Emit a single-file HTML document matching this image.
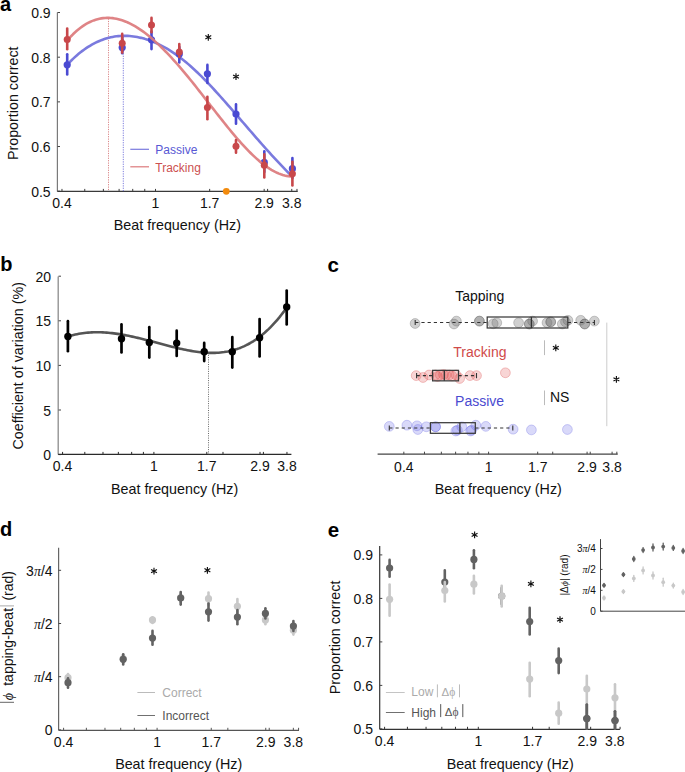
<!DOCTYPE html>
<html><head><meta charset="utf-8"><style>
html,body{margin:0;padding:0;background:#fff;}
body{width:685px;height:772px;overflow:hidden;font-family:"Liberation Sans", sans-serif;}
svg{display:block;}
</style></head><body>
<svg width="685" height="772" viewBox="0 0 685 772" font-family='"Liberation Sans", sans-serif'>
<rect width="685" height="772" fill="#fff"/>
<text x="0.00" y="11.20" font-size="20" text-anchor="start" fill="#000" font-weight="bold" >a</text>
<line x1="57.40" y1="12.50" x2="57.40" y2="191.40" stroke="#7a7a7a" stroke-width="1.2" />
<line x1="57.50" y1="191.20" x2="60.00" y2="191.20" stroke="#444" stroke-width="1" />
<text x="50.60" y="196.70" font-size="14" text-anchor="end" fill="#111" font-weight="normal" >0.5</text>
<line x1="57.50" y1="146.53" x2="60.00" y2="146.53" stroke="#444" stroke-width="1" />
<text x="50.60" y="152.03" font-size="14" text-anchor="end" fill="#111" font-weight="normal" >0.6</text>
<line x1="57.50" y1="101.86" x2="60.00" y2="101.86" stroke="#444" stroke-width="1" />
<text x="50.60" y="107.36" font-size="14" text-anchor="end" fill="#111" font-weight="normal" >0.7</text>
<line x1="57.50" y1="57.19" x2="60.00" y2="57.19" stroke="#444" stroke-width="1" />
<text x="50.60" y="62.69" font-size="14" text-anchor="end" fill="#111" font-weight="normal" >0.8</text>
<line x1="57.50" y1="12.52" x2="60.00" y2="12.52" stroke="#444" stroke-width="1" />
<text x="50.60" y="18.02" font-size="14" text-anchor="end" fill="#111" font-weight="normal" >0.9</text>
<line x1="57.40" y1="191.40" x2="297.70" y2="191.40" stroke="#3a3a3a" stroke-width="1.3" />
<line x1="61.98" y1="191.40" x2="61.98" y2="188.90" stroke="#3a3a3a" stroke-width="1" />
<line x1="155.50" y1="191.40" x2="155.50" y2="188.90" stroke="#3a3a3a" stroke-width="1" />
<line x1="209.66" y1="191.40" x2="209.66" y2="188.90" stroke="#3a3a3a" stroke-width="1" />
<line x1="264.16" y1="191.40" x2="264.16" y2="188.90" stroke="#3a3a3a" stroke-width="1" />
<line x1="291.75" y1="191.40" x2="291.75" y2="188.90" stroke="#3a3a3a" stroke-width="1" />
<line x1="84.76" y1="191.40" x2="84.76" y2="188.90" stroke="#3a3a3a" stroke-width="1" />
<line x1="103.37" y1="191.40" x2="103.37" y2="188.90" stroke="#3a3a3a" stroke-width="1" />
<line x1="119.10" y1="191.40" x2="119.10" y2="188.90" stroke="#3a3a3a" stroke-width="1" />
<line x1="132.73" y1="191.40" x2="132.73" y2="188.90" stroke="#3a3a3a" stroke-width="1" />
<line x1="144.75" y1="191.40" x2="144.75" y2="188.90" stroke="#3a3a3a" stroke-width="1" />
<line x1="226.24" y1="191.40" x2="226.24" y2="188.90" stroke="#3a3a3a" stroke-width="1" />
<line x1="267.62" y1="191.40" x2="267.62" y2="188.90" stroke="#3a3a3a" stroke-width="1" />
<line x1="296.98" y1="191.40" x2="296.98" y2="188.90" stroke="#3a3a3a" stroke-width="1" />
<text x="61.98" y="208.30" font-size="14" text-anchor="middle" fill="#111" font-weight="normal" >0.4</text>
<text x="155.50" y="208.30" font-size="14" text-anchor="middle" fill="#111" font-weight="normal" >1</text>
<text x="209.66" y="208.30" font-size="14" text-anchor="middle" fill="#111" font-weight="normal" >1.7</text>
<text x="264.16" y="208.30" font-size="14" text-anchor="middle" fill="#111" font-weight="normal" >2.9</text>
<text x="291.75" y="208.30" font-size="14" text-anchor="middle" fill="#111" font-weight="normal" >3.8</text>
<text x="177.40" y="229.80" font-size="14.3" text-anchor="middle" fill="#111" font-weight="normal" >Beat frequency (Hz)</text>
<text x="0.00" y="0.00" font-size="14.3" text-anchor="middle" fill="#111" font-weight="normal" transform="translate(18.0,103.3) rotate(-90)">Proportion correct</text>
<line x1="108.60" y1="18.50" x2="108.60" y2="191.20" stroke="#c8474a" stroke-width="0.8" stroke-dasharray="1.2,1.2" opacity="0.9"/>
<line x1="123.30" y1="36.50" x2="123.30" y2="191.20" stroke="#4a4ad2" stroke-width="0.8" stroke-dasharray="1.2,1.2" opacity="0.9"/>
<line x1="130.30" y1="149.30" x2="149.00" y2="149.30" stroke="#7a7ade" stroke-width="1.2" />
<line x1="130.30" y1="166.80" x2="149.00" y2="166.80" stroke="#dc7a7c" stroke-width="1.2" />
<text x="155.30" y="154.20" font-size="12" text-anchor="start" fill="#5858d4" font-weight="normal" >Passive</text>
<text x="155.30" y="171.50" font-size="12" text-anchor="start" fill="#cc5050" font-weight="normal" >Tracking</text>
<polyline points="67.30,64.59 69.19,62.61 71.08,60.71 72.97,58.88 74.86,57.13 76.75,55.45 78.64,53.85 80.53,52.32 82.42,50.87 84.31,49.49 86.20,48.18 88.09,46.94 89.98,45.77 91.87,44.66 93.76,43.63 95.65,42.67 97.54,41.77 99.43,40.94 101.32,40.17 103.21,39.47 105.10,38.84 106.99,38.26 108.88,37.75 110.77,37.30 112.66,36.91 114.55,36.58 116.44,36.31 118.33,36.10 120.22,35.95 122.11,35.85 124.00,35.81 125.89,35.83 127.78,35.90 129.67,36.02 131.56,36.20 133.45,36.43 135.34,36.71 137.23,37.04 139.12,37.43 141.01,37.86 142.90,38.34 144.79,38.87 146.68,39.45 148.57,40.08 150.46,40.75 152.35,41.47 154.24,42.24 156.13,43.06 158.02,43.93 159.91,44.84 161.80,45.80 163.69,46.81 165.58,47.86 167.47,48.96 169.36,50.11 171.25,51.30 173.14,52.54 175.03,53.83 176.92,55.16 178.81,56.54 180.69,57.97 182.58,59.44 184.47,60.96 186.36,62.52 188.25,64.13 190.14,65.78 192.03,67.47 193.92,69.19 195.81,70.95 197.70,72.75 199.59,74.58 201.48,76.44 203.37,78.33 205.26,80.26 207.15,82.21 209.04,84.18 210.93,86.18 212.82,88.21 214.71,90.25 216.60,92.32 218.49,94.40 220.38,96.50 222.27,98.62 224.16,100.75 226.05,102.89 227.94,105.05 229.83,107.21 231.72,109.38 233.61,111.56 235.50,113.75 237.39,115.93 239.28,118.12 241.17,120.32 243.06,122.51 244.95,124.70 246.84,126.89 248.73,129.08 250.62,131.27 252.51,133.45 254.40,135.62 256.29,137.79 258.18,139.95 260.07,142.11 261.96,144.25 263.85,146.38 265.74,148.51 267.63,150.62 269.52,152.71 271.41,154.80 273.30,156.86 275.19,158.91 277.08,160.95 278.97,162.96 280.86,164.96 282.75,166.94 284.64,168.89 286.53,170.82 288.42,172.73 290.31,174.62 292.20,176.48" fill="none" stroke="#7a7ade" stroke-width="2.6" stroke-linecap="round" stroke-linejoin="round" />
<line x1="67.20" y1="54.30" x2="67.20" y2="74.40" stroke="#4a4ad2" stroke-width="2.6" stroke-linecap="round"/>
<circle cx="67.20" cy="64.80" r="3.6" fill="#4a4ad2" />
<line x1="122.20" y1="38.00" x2="122.20" y2="53.20" stroke="#4a4ad2" stroke-width="2.6" stroke-linecap="round"/>
<circle cx="122.20" cy="47.60" r="3.6" fill="#4a4ad2" />
<line x1="151.50" y1="31.60" x2="151.50" y2="49.10" stroke="#4a4ad2" stroke-width="2.6" stroke-linecap="round"/>
<circle cx="151.50" cy="39.80" r="3.6" fill="#4a4ad2" />
<line x1="179.30" y1="47.00" x2="179.30" y2="62.40" stroke="#4a4ad2" stroke-width="2.6" stroke-linecap="round"/>
<circle cx="179.30" cy="53.90" r="3.6" fill="#4a4ad2" />
<line x1="207.40" y1="64.90" x2="207.40" y2="82.90" stroke="#4a4ad2" stroke-width="2.6" stroke-linecap="round"/>
<circle cx="207.40" cy="73.80" r="3.6" fill="#4a4ad2" />
<line x1="236.00" y1="104.40" x2="236.00" y2="123.80" stroke="#4a4ad2" stroke-width="2.6" stroke-linecap="round"/>
<circle cx="236.00" cy="114.00" r="3.6" fill="#4a4ad2" />
<line x1="264.30" y1="151.30" x2="264.30" y2="172.00" stroke="#4a4ad2" stroke-width="2.6" stroke-linecap="round"/>
<circle cx="264.30" cy="162.40" r="3.6" fill="#4a4ad2" />
<line x1="292.40" y1="158.10" x2="292.40" y2="178.00" stroke="#4a4ad2" stroke-width="2.6" stroke-linecap="round"/>
<circle cx="292.40" cy="168.70" r="3.6" fill="#4a4ad2" />
<polyline points="67.30,40.42 69.19,38.26 71.08,36.22 72.97,34.30 74.86,32.49 76.75,30.79 78.64,29.21 80.53,27.74 82.42,26.38 84.31,25.12 86.20,23.97 88.09,22.92 89.98,21.98 91.87,21.14 93.76,20.40 95.65,19.76 97.54,19.21 99.43,18.76 101.32,18.40 103.21,18.14 105.10,17.97 106.99,17.89 108.88,17.89 110.77,17.99 112.66,18.16 114.55,18.43 116.44,18.77 118.33,19.20 120.22,19.70 122.11,20.29 124.00,20.95 125.89,21.68 127.78,22.49 129.67,23.37 131.56,24.32 133.45,25.34 135.34,26.43 137.23,27.58 139.12,28.80 141.01,30.08 142.90,31.43 144.79,32.83 146.68,34.29 148.57,35.80 150.46,37.37 152.35,38.98 154.24,40.65 156.13,42.35 158.02,44.11 159.91,45.90 161.80,47.73 163.69,49.60 165.58,51.51 167.47,53.46 169.36,55.44 171.25,57.47 173.14,59.52 175.03,61.61 176.92,63.74 178.81,65.89 180.69,68.08 182.58,70.30 184.47,72.56 186.36,74.83 188.25,77.14 190.14,79.46 192.03,81.81 193.92,84.18 195.81,86.56 197.70,88.95 199.59,91.36 201.48,93.78 203.37,96.21 205.26,98.64 207.15,101.08 209.04,103.51 210.93,105.95 212.82,108.38 214.71,110.81 216.60,113.23 218.49,115.64 220.38,118.04 222.27,120.43 224.16,122.80 226.05,125.15 227.94,127.48 229.83,129.79 231.72,132.07 233.61,134.33 235.50,136.56 237.39,138.76 239.28,140.92 241.17,143.04 243.06,145.13 244.95,147.18 246.84,149.18 248.73,151.13 250.62,153.03 252.51,154.88 254.40,156.67 256.29,158.40 258.18,160.07 260.07,161.68 261.96,163.22 263.85,164.69 265.74,166.09 267.63,167.41 269.52,168.66 271.41,169.82 273.30,170.90 275.19,171.90 277.08,172.80 278.97,173.62 280.86,174.33 282.75,174.96 284.64,175.48 286.53,175.90 288.42,176.21 290.31,176.41 292.20,176.51" fill="none" stroke="#dc7a7c" stroke-width="2.6" stroke-linecap="round" stroke-linejoin="round" opacity="0.92"/>
<line x1="67.20" y1="28.50" x2="67.20" y2="49.30" stroke="#c8474a" stroke-width="2.6" stroke-linecap="round"/>
<circle cx="67.20" cy="39.60" r="3.5" fill="#c8474a" />
<line x1="122.20" y1="33.90" x2="122.20" y2="52.60" stroke="#c8474a" stroke-width="2.6" stroke-linecap="round"/>
<circle cx="122.20" cy="43.30" r="3.5" fill="#c8474a" />
<line x1="151.50" y1="17.90" x2="151.50" y2="32.20" stroke="#c8474a" stroke-width="2.6" stroke-linecap="round"/>
<circle cx="151.50" cy="25.00" r="3.5" fill="#c8474a" />
<line x1="179.30" y1="44.00" x2="179.30" y2="57.00" stroke="#c8474a" stroke-width="2.6" stroke-linecap="round"/>
<circle cx="179.30" cy="52.10" r="3.5" fill="#c8474a" />
<line x1="207.40" y1="96.80" x2="207.40" y2="119.30" stroke="#c8474a" stroke-width="2.6" stroke-linecap="round"/>
<circle cx="207.40" cy="107.40" r="3.5" fill="#c8474a" />
<line x1="236.00" y1="140.10" x2="236.00" y2="152.80" stroke="#c8474a" stroke-width="2.6" stroke-linecap="round"/>
<circle cx="236.00" cy="146.30" r="3.5" fill="#c8474a" />
<line x1="264.30" y1="154.40" x2="264.30" y2="177.50" stroke="#c8474a" stroke-width="2.6" stroke-linecap="round"/>
<circle cx="264.30" cy="165.30" r="3.5" fill="#c8474a" />
<line x1="292.40" y1="161.80" x2="292.40" y2="185.50" stroke="#c8474a" stroke-width="2.6" stroke-linecap="round"/>
<circle cx="292.40" cy="173.80" r="3.5" fill="#c8474a" />
<path d="M208.30,33.90L208.30,40.70M205.36,35.60L211.24,39.00M211.24,35.60L205.36,39.00" stroke="#111" stroke-width="1.15" fill="none"/>
<path d="M236.00,73.20L236.00,80.00M233.06,74.90L238.94,78.30M238.94,74.90L233.06,78.30" stroke="#111" stroke-width="1.15" fill="none"/>
<circle cx="226.30" cy="191.30" r="3.4" fill="#f28a0c" />
<text x="0.30" y="271.40" font-size="20" text-anchor="start" fill="#000" font-weight="bold" >b</text>
<line x1="58.20" y1="276.50" x2="58.20" y2="454.40" stroke="#8c8c8c" stroke-width="1.3" />
<line x1="58.50" y1="454.60" x2="61.00" y2="454.60" stroke="#444" stroke-width="1" />
<text x="51.00" y="460.10" font-size="14" text-anchor="end" fill="#111" font-weight="normal" >0</text>
<line x1="58.50" y1="410.00" x2="61.00" y2="410.00" stroke="#444" stroke-width="1" />
<text x="51.00" y="415.50" font-size="14" text-anchor="end" fill="#111" font-weight="normal" >5</text>
<line x1="58.50" y1="365.40" x2="61.00" y2="365.40" stroke="#444" stroke-width="1" />
<text x="51.00" y="370.90" font-size="14" text-anchor="end" fill="#111" font-weight="normal" >10</text>
<line x1="58.50" y1="320.80" x2="61.00" y2="320.80" stroke="#444" stroke-width="1" />
<text x="51.00" y="326.30" font-size="14" text-anchor="end" fill="#111" font-weight="normal" >15</text>
<line x1="58.50" y1="276.20" x2="61.00" y2="276.20" stroke="#444" stroke-width="1" />
<text x="51.00" y="281.70" font-size="14" text-anchor="end" fill="#111" font-weight="normal" >20</text>
<line x1="58.20" y1="454.40" x2="291.40" y2="454.40" stroke="#2a2a2a" stroke-width="1.3" />
<line x1="62.57" y1="454.40" x2="62.57" y2="451.90" stroke="#2a2a2a" stroke-width="1" />
<line x1="153.90" y1="454.40" x2="153.90" y2="451.90" stroke="#2a2a2a" stroke-width="1" />
<line x1="206.79" y1="454.40" x2="206.79" y2="451.90" stroke="#2a2a2a" stroke-width="1" />
<line x1="260.02" y1="454.40" x2="260.02" y2="451.90" stroke="#2a2a2a" stroke-width="1" />
<line x1="286.96" y1="454.40" x2="286.96" y2="451.90" stroke="#2a2a2a" stroke-width="1" />
<line x1="84.81" y1="454.40" x2="84.81" y2="451.90" stroke="#2a2a2a" stroke-width="1" />
<line x1="102.99" y1="454.40" x2="102.99" y2="451.90" stroke="#2a2a2a" stroke-width="1" />
<line x1="118.35" y1="454.40" x2="118.35" y2="451.90" stroke="#2a2a2a" stroke-width="1" />
<line x1="131.66" y1="454.40" x2="131.66" y2="451.90" stroke="#2a2a2a" stroke-width="1" />
<line x1="143.40" y1="454.40" x2="143.40" y2="451.90" stroke="#2a2a2a" stroke-width="1" />
<line x1="222.99" y1="454.40" x2="222.99" y2="451.90" stroke="#2a2a2a" stroke-width="1" />
<line x1="263.40" y1="454.40" x2="263.40" y2="451.90" stroke="#2a2a2a" stroke-width="1" />
<text x="62.57" y="471.30" font-size="14" text-anchor="middle" fill="#111" font-weight="normal" >0.4</text>
<text x="153.90" y="471.30" font-size="14" text-anchor="middle" fill="#111" font-weight="normal" >1</text>
<text x="206.79" y="471.30" font-size="14" text-anchor="middle" fill="#111" font-weight="normal" >1.7</text>
<text x="260.02" y="471.30" font-size="14" text-anchor="middle" fill="#111" font-weight="normal" >2.9</text>
<text x="286.96" y="471.30" font-size="14" text-anchor="middle" fill="#111" font-weight="normal" >3.8</text>
<text x="174.60" y="493.80" font-size="14.3" text-anchor="middle" fill="#111" font-weight="normal" >Beat frequency (Hz)</text>
<text x="0.00" y="0.00" font-size="14.3" text-anchor="middle" fill="#111" font-weight="normal" transform="translate(23.0,365.8) rotate(-90)">Coefficient of variation (%)</text>
<line x1="208.50" y1="352.50" x2="208.50" y2="454.40" stroke="#444" stroke-width="0.8" stroke-dasharray="1,1.3"/>
<polyline points="67.90,336.57 69.74,336.00 71.58,335.48 73.42,335.01 75.25,334.57 77.09,334.17 78.93,333.82 80.77,333.50 82.61,333.22 84.45,332.98 86.29,332.77 88.13,332.60 89.96,332.46 91.80,332.35 93.64,332.28 95.48,332.24 97.32,332.23 99.16,332.25 101.00,332.30 102.83,332.37 104.67,332.47 106.51,332.60 108.35,332.75 110.19,332.93 112.03,333.13 113.87,333.36 115.71,333.60 117.54,333.87 119.38,334.15 121.22,334.45 123.06,334.77 124.90,335.11 126.74,335.47 128.58,335.84 130.41,336.22 132.25,336.62 134.09,337.03 135.93,337.45 137.77,337.88 139.61,338.32 141.45,338.77 143.28,339.23 145.12,339.69 146.96,340.16 148.80,340.64 150.64,341.12 152.48,341.60 154.32,342.09 156.16,342.58 157.99,343.07 159.83,343.55 161.67,344.04 163.51,344.53 165.35,345.01 167.19,345.49 169.03,345.96 170.86,346.43 172.70,346.89 174.54,347.34 176.38,347.79 178.22,348.23 180.06,348.65 181.90,349.06 183.74,349.46 185.57,349.85 187.41,350.22 189.25,350.57 191.09,350.90 192.93,351.22 194.77,351.51 196.61,351.78 198.44,352.02 200.28,352.24 202.12,352.43 203.96,352.59 205.80,352.72 207.64,352.82 209.48,352.89 211.32,352.92 213.15,352.92 214.99,352.88 216.83,352.80 218.67,352.68 220.51,352.52 222.35,352.32 224.19,352.08 226.02,351.78 227.86,351.45 229.70,351.06 231.54,350.63 233.38,350.14 235.22,349.60 237.06,349.01 238.89,348.36 240.73,347.66 242.57,346.89 244.41,346.07 246.25,345.19 248.09,344.25 249.93,343.24 251.77,342.17 253.60,341.03 255.44,339.82 257.28,338.55 259.12,337.20 260.96,335.78 262.80,334.29 264.64,332.73 266.47,331.09 268.31,329.37 270.15,327.57 271.99,325.69 273.83,323.73 275.67,321.69 277.51,319.56 279.35,317.35 281.18,315.05 283.02,312.66 284.86,310.19 286.70,307.62" fill="none" stroke="#555" stroke-width="2.6" stroke-linecap="round" stroke-linejoin="round" />
<line x1="67.90" y1="321.20" x2="67.90" y2="351.20" stroke="#000" stroke-width="2.7" stroke-linecap="round"/>
<circle cx="67.90" cy="336.50" r="3.7" fill="#000" />
<line x1="121.50" y1="324.40" x2="121.50" y2="352.50" stroke="#000" stroke-width="2.7" stroke-linecap="round"/>
<circle cx="121.50" cy="338.70" r="3.7" fill="#000" />
<line x1="149.30" y1="327.20" x2="149.30" y2="357.60" stroke="#000" stroke-width="2.7" stroke-linecap="round"/>
<circle cx="149.30" cy="342.40" r="3.7" fill="#000" />
<line x1="176.70" y1="330.70" x2="176.70" y2="356.00" stroke="#000" stroke-width="2.7" stroke-linecap="round"/>
<circle cx="176.70" cy="343.10" r="3.7" fill="#000" />
<line x1="204.20" y1="342.90" x2="204.20" y2="361.10" stroke="#000" stroke-width="2.7" stroke-linecap="round"/>
<circle cx="204.20" cy="351.80" r="3.7" fill="#000" />
<line x1="232.30" y1="337.00" x2="232.30" y2="367.60" stroke="#000" stroke-width="2.7" stroke-linecap="round"/>
<circle cx="232.30" cy="351.80" r="3.7" fill="#000" />
<line x1="259.60" y1="319.00" x2="259.60" y2="356.40" stroke="#000" stroke-width="2.7" stroke-linecap="round"/>
<circle cx="259.60" cy="337.70" r="3.7" fill="#000" />
<line x1="286.70" y1="290.60" x2="286.70" y2="324.40" stroke="#000" stroke-width="2.7" stroke-linecap="round"/>
<circle cx="286.70" cy="306.90" r="3.7" fill="#000" />
<text x="327.60" y="272.20" font-size="20.5" text-anchor="start" fill="#000" font-weight="bold" >c</text>
<line x1="377.60" y1="454.20" x2="617.70" y2="454.20" stroke="#444" stroke-width="1.2" />
<line x1="403.84" y1="454.20" x2="403.84" y2="451.70" stroke="#444" stroke-width="1" />
<line x1="424.48" y1="454.20" x2="424.48" y2="451.70" stroke="#444" stroke-width="1" />
<line x1="441.35" y1="454.20" x2="441.35" y2="451.70" stroke="#444" stroke-width="1" />
<line x1="455.61" y1="454.20" x2="455.61" y2="451.70" stroke="#444" stroke-width="1" />
<line x1="467.96" y1="454.20" x2="467.96" y2="451.70" stroke="#444" stroke-width="1" />
<line x1="478.85" y1="454.20" x2="478.85" y2="451.70" stroke="#444" stroke-width="1" />
<line x1="488.60" y1="454.20" x2="488.60" y2="451.70" stroke="#444" stroke-width="1" />
<line x1="537.69" y1="454.20" x2="537.69" y2="451.70" stroke="#444" stroke-width="1" />
<line x1="552.72" y1="454.20" x2="552.72" y2="451.70" stroke="#444" stroke-width="1" />
<line x1="587.09" y1="454.20" x2="587.09" y2="451.70" stroke="#444" stroke-width="1" />
<line x1="590.23" y1="454.20" x2="590.23" y2="451.70" stroke="#444" stroke-width="1" />
<line x1="612.09" y1="454.20" x2="612.09" y2="451.70" stroke="#444" stroke-width="1" />
<line x1="616.84" y1="454.20" x2="616.84" y2="451.70" stroke="#444" stroke-width="1" />
<text x="403.84" y="471.50" font-size="14" text-anchor="middle" fill="#111" font-weight="normal" >0.4</text>
<text x="488.60" y="471.50" font-size="14" text-anchor="middle" fill="#111" font-weight="normal" >1</text>
<text x="537.69" y="471.50" font-size="14" text-anchor="middle" fill="#111" font-weight="normal" >1.7</text>
<text x="587.09" y="471.50" font-size="14" text-anchor="middle" fill="#111" font-weight="normal" >2.9</text>
<text x="612.09" y="471.50" font-size="14" text-anchor="middle" fill="#111" font-weight="normal" >3.8</text>
<text x="498.30" y="493.50" font-size="14.3" text-anchor="middle" fill="#111" font-weight="normal" >Beat frequency (Hz)</text>
<text x="479.70" y="301.10" font-size="14" text-anchor="middle" fill="#111" font-weight="normal" >Tapping</text>
<text x="479.90" y="356.90" font-size="14" text-anchor="middle" fill="#d04a4a" font-weight="normal" >Tracking</text>
<text x="479.60" y="405.90" font-size="14" text-anchor="middle" fill="#4a4ad0" font-weight="normal" >Passive</text>
<line x1="544.50" y1="340.30" x2="544.50" y2="355.10" stroke="#bbb" stroke-width="1" />
<line x1="544.50" y1="390.50" x2="544.50" y2="405.10" stroke="#bbb" stroke-width="1" />
<line x1="606.80" y1="322.60" x2="606.80" y2="426.20" stroke="#ccc" stroke-width="1" />
<path d="M555.80,344.50L555.80,351.30M552.86,346.20L558.74,349.60M558.74,346.20L552.86,349.60" stroke="#111" stroke-width="1.15" fill="none"/>
<text x="550.00" y="402.30" font-size="14" text-anchor="start" fill="#111" font-weight="normal" >NS</text>
<path d="M616.40,376.00L616.40,382.80M613.46,377.70L619.34,381.10M619.34,377.70L613.46,381.10" stroke="#111" stroke-width="1.15" fill="none"/>
<circle cx="415.10" cy="323.50" r="4.9" fill="rgba(110,110,110,0.32)" stroke="rgba(90,90,90,0.33)" stroke-width="0.9"/>
<circle cx="454.00" cy="324.00" r="4.9" fill="rgba(110,110,110,0.32)" stroke="rgba(90,90,90,0.33)" stroke-width="0.9"/>
<circle cx="456.40" cy="321.10" r="4.9" fill="rgba(110,110,110,0.32)" stroke="rgba(90,90,90,0.33)" stroke-width="0.9"/>
<circle cx="479.40" cy="321.10" r="4.9" fill="rgba(110,110,110,0.32)" stroke="rgba(90,90,90,0.33)" stroke-width="0.9"/>
<circle cx="479.40" cy="321.10" r="4.9" fill="rgba(110,110,110,0.32)" stroke="rgba(90,90,90,0.33)" stroke-width="0.9"/>
<circle cx="493.20" cy="323.80" r="4.9" fill="rgba(110,110,110,0.32)" stroke="rgba(90,90,90,0.33)" stroke-width="0.9"/>
<circle cx="496.80" cy="322.80" r="4.9" fill="rgba(110,110,110,0.32)" stroke="rgba(90,90,90,0.33)" stroke-width="0.9"/>
<circle cx="518.60" cy="322.70" r="4.9" fill="rgba(110,110,110,0.32)" stroke="rgba(90,90,90,0.33)" stroke-width="0.9"/>
<circle cx="529.30" cy="324.00" r="4.9" fill="rgba(110,110,110,0.32)" stroke="rgba(90,90,90,0.33)" stroke-width="0.9"/>
<circle cx="529.30" cy="324.00" r="4.9" fill="rgba(110,110,110,0.32)" stroke="rgba(90,90,90,0.33)" stroke-width="0.9"/>
<circle cx="532.60" cy="321.10" r="4.9" fill="rgba(110,110,110,0.32)" stroke="rgba(90,90,90,0.33)" stroke-width="0.9"/>
<circle cx="547.00" cy="322.70" r="4.9" fill="rgba(110,110,110,0.32)" stroke="rgba(90,90,90,0.33)" stroke-width="0.9"/>
<circle cx="550.70" cy="321.90" r="4.9" fill="rgba(110,110,110,0.32)" stroke="rgba(90,90,90,0.33)" stroke-width="0.9"/>
<circle cx="550.70" cy="321.90" r="4.9" fill="rgba(110,110,110,0.32)" stroke="rgba(90,90,90,0.33)" stroke-width="0.9"/>
<circle cx="562.30" cy="324.00" r="4.9" fill="rgba(110,110,110,0.32)" stroke="rgba(90,90,90,0.33)" stroke-width="0.9"/>
<circle cx="565.50" cy="321.90" r="4.9" fill="rgba(110,110,110,0.32)" stroke="rgba(90,90,90,0.33)" stroke-width="0.9"/>
<circle cx="567.90" cy="320.30" r="4.9" fill="rgba(110,110,110,0.32)" stroke="rgba(90,90,90,0.33)" stroke-width="0.9"/>
<circle cx="580.70" cy="320.30" r="4.9" fill="rgba(110,110,110,0.32)" stroke="rgba(90,90,90,0.33)" stroke-width="0.9"/>
<circle cx="584.70" cy="324.00" r="4.9" fill="rgba(110,110,110,0.32)" stroke="rgba(90,90,90,0.33)" stroke-width="0.9"/>
<circle cx="584.70" cy="324.00" r="4.9" fill="rgba(110,110,110,0.32)" stroke="rgba(90,90,90,0.33)" stroke-width="0.9"/>
<circle cx="594.40" cy="321.10" r="4.9" fill="rgba(110,110,110,0.32)" stroke="rgba(90,90,90,0.33)" stroke-width="0.9"/>
<line x1="415.20" y1="322.50" x2="487.20" y2="322.50" stroke="#333" stroke-width="1.1" stroke-dasharray="3.2,3.0"/>
<line x1="567.80" y1="322.50" x2="594.40" y2="322.50" stroke="#333" stroke-width="1.1" stroke-dasharray="3.2,3.0"/>
<line x1="415.20" y1="319.90" x2="415.20" y2="325.10" stroke="#333" stroke-width="1.1" />
<line x1="594.40" y1="319.90" x2="594.40" y2="325.10" stroke="#333" stroke-width="1.1" />
<rect x="487.20" y="317.00" width="80.60" height="11.00" fill="none" stroke="#3a3a3a" stroke-width="1.25"/>
<line x1="531.40" y1="317.00" x2="531.40" y2="328.00" stroke="#333" stroke-width="1.3" />
<circle cx="416.20" cy="375.60" r="4.9" fill="rgba(225,80,80,0.24)" stroke="rgba(215,70,70,0.35)" stroke-width="0.9"/>
<circle cx="423.00" cy="377.50" r="4.9" fill="rgba(225,80,80,0.24)" stroke="rgba(215,70,70,0.35)" stroke-width="0.9"/>
<circle cx="429.10" cy="375.00" r="4.9" fill="rgba(225,80,80,0.24)" stroke="rgba(215,70,70,0.35)" stroke-width="0.9"/>
<circle cx="435.50" cy="375.00" r="4.9" fill="rgba(225,80,80,0.24)" stroke="rgba(215,70,70,0.35)" stroke-width="0.9"/>
<circle cx="437.50" cy="376.50" r="4.9" fill="rgba(225,80,80,0.24)" stroke="rgba(215,70,70,0.35)" stroke-width="0.9"/>
<circle cx="440.30" cy="375.00" r="4.9" fill="rgba(225,80,80,0.24)" stroke="rgba(215,70,70,0.35)" stroke-width="0.9"/>
<circle cx="443.50" cy="374.50" r="4.9" fill="rgba(225,80,80,0.24)" stroke="rgba(215,70,70,0.35)" stroke-width="0.9"/>
<circle cx="446.00" cy="375.00" r="4.9" fill="rgba(225,80,80,0.24)" stroke="rgba(215,70,70,0.35)" stroke-width="0.9"/>
<circle cx="449.20" cy="375.00" r="4.9" fill="rgba(225,80,80,0.24)" stroke="rgba(215,70,70,0.35)" stroke-width="0.9"/>
<circle cx="452.00" cy="376.00" r="4.9" fill="rgba(225,80,80,0.24)" stroke="rgba(215,70,70,0.35)" stroke-width="0.9"/>
<circle cx="456.10" cy="375.00" r="4.9" fill="rgba(225,80,80,0.24)" stroke="rgba(215,70,70,0.35)" stroke-width="0.9"/>
<circle cx="459.60" cy="378.50" r="4.9" fill="rgba(225,80,80,0.24)" stroke="rgba(215,70,70,0.35)" stroke-width="0.9"/>
<circle cx="470.00" cy="375.60" r="4.9" fill="rgba(225,80,80,0.24)" stroke="rgba(215,70,70,0.35)" stroke-width="0.9"/>
<circle cx="476.50" cy="375.60" r="4.9" fill="rgba(225,80,80,0.24)" stroke="rgba(215,70,70,0.35)" stroke-width="0.9"/>
<circle cx="505.40" cy="372.80" r="4.9" fill="rgba(225,80,80,0.24)" stroke="rgba(215,70,70,0.35)" stroke-width="0.9"/>
<line x1="416.60" y1="375.60" x2="432.60" y2="375.60" stroke="#333" stroke-width="1.1" stroke-dasharray="3.2,3.0"/>
<line x1="458.50" y1="375.60" x2="476.50" y2="375.60" stroke="#333" stroke-width="1.1" stroke-dasharray="3.2,3.0"/>
<line x1="416.60" y1="373.00" x2="416.60" y2="378.20" stroke="#333" stroke-width="1.1" />
<line x1="476.50" y1="373.00" x2="476.50" y2="378.20" stroke="#333" stroke-width="1.1" />
<rect x="432.60" y="370.35" width="25.90" height="10.50" fill="none" stroke="#3a3a3a" stroke-width="1.25"/>
<line x1="444.30" y1="370.35" x2="444.30" y2="380.85" stroke="#333" stroke-width="1.3" />
<circle cx="389.30" cy="426.40" r="4.9" fill="rgba(110,110,230,0.26)" stroke="rgba(100,100,225,0.33)" stroke-width="0.9"/>
<circle cx="406.90" cy="425.20" r="4.9" fill="rgba(110,110,230,0.26)" stroke="rgba(100,100,225,0.33)" stroke-width="0.9"/>
<circle cx="417.00" cy="425.80" r="4.9" fill="rgba(110,110,230,0.26)" stroke="rgba(100,100,225,0.33)" stroke-width="0.9"/>
<circle cx="417.80" cy="429.50" r="4.9" fill="rgba(110,110,230,0.26)" stroke="rgba(100,100,225,0.33)" stroke-width="0.9"/>
<circle cx="426.30" cy="426.80" r="4.9" fill="rgba(110,110,230,0.26)" stroke="rgba(100,100,225,0.33)" stroke-width="0.9"/>
<circle cx="435.60" cy="426.80" r="4.9" fill="rgba(110,110,230,0.26)" stroke="rgba(100,100,225,0.33)" stroke-width="0.9"/>
<circle cx="435.60" cy="426.80" r="4.9" fill="rgba(110,110,230,0.26)" stroke="rgba(100,100,225,0.33)" stroke-width="0.9"/>
<circle cx="455.80" cy="431.00" r="4.9" fill="rgba(110,110,230,0.26)" stroke="rgba(100,100,225,0.33)" stroke-width="0.9"/>
<circle cx="457.40" cy="430.20" r="4.9" fill="rgba(110,110,230,0.26)" stroke="rgba(100,100,225,0.33)" stroke-width="0.9"/>
<circle cx="461.80" cy="426.80" r="4.9" fill="rgba(110,110,230,0.26)" stroke="rgba(100,100,225,0.33)" stroke-width="0.9"/>
<circle cx="470.60" cy="431.00" r="4.9" fill="rgba(110,110,230,0.26)" stroke="rgba(100,100,225,0.33)" stroke-width="0.9"/>
<circle cx="471.60" cy="430.20" r="4.9" fill="rgba(110,110,230,0.26)" stroke="rgba(100,100,225,0.33)" stroke-width="0.9"/>
<circle cx="475.80" cy="425.20" r="4.9" fill="rgba(110,110,230,0.26)" stroke="rgba(100,100,225,0.33)" stroke-width="0.9"/>
<circle cx="485.80" cy="426.40" r="4.9" fill="rgba(110,110,230,0.26)" stroke="rgba(100,100,225,0.33)" stroke-width="0.9"/>
<circle cx="513.10" cy="429.20" r="4.9" fill="rgba(110,110,230,0.26)" stroke="rgba(100,100,225,0.33)" stroke-width="0.9"/>
<circle cx="531.40" cy="429.90" r="4.9" fill="rgba(110,110,230,0.26)" stroke="rgba(100,100,225,0.33)" stroke-width="0.9"/>
<circle cx="567.40" cy="429.50" r="4.9" fill="rgba(110,110,230,0.26)" stroke="rgba(100,100,225,0.33)" stroke-width="0.9"/>
<line x1="389.30" y1="428.00" x2="430.40" y2="428.00" stroke="#333" stroke-width="1.1" stroke-dasharray="3.2,3.0"/>
<line x1="475.30" y1="428.00" x2="512.80" y2="428.00" stroke="#333" stroke-width="1.1" stroke-dasharray="3.2,3.0"/>
<line x1="389.30" y1="425.40" x2="389.30" y2="430.60" stroke="#333" stroke-width="1.1" />
<line x1="512.80" y1="425.40" x2="512.80" y2="430.60" stroke="#333" stroke-width="1.1" />
<rect x="430.40" y="422.70" width="44.90" height="10.60" fill="none" stroke="#3a3a3a" stroke-width="1.25"/>
<line x1="459.90" y1="422.70" x2="459.90" y2="433.30" stroke="#333" stroke-width="1.3" />
<text x="0.10" y="536.00" font-size="20" text-anchor="start" fill="#000" font-weight="bold" >d</text>
<line x1="58.60" y1="547.70" x2="58.60" y2="730.30" stroke="#666" stroke-width="1.2" />
<line x1="58.60" y1="729.90" x2="61.10" y2="729.90" stroke="#444" stroke-width="1" />
<text x="52.60" y="735.40" font-size="14" text-anchor="end" fill="#111" font-weight="normal" >0</text>
<line x1="58.60" y1="676.70" x2="61.10" y2="676.70" stroke="#444" stroke-width="1" />
<text x="52.60" y="682.20" font-size="14" text-anchor="end" fill="#111" font-weight="normal" ><tspan font-family="Liberation Serif" font-style="italic">π</tspan>/4</text>
<line x1="58.60" y1="623.50" x2="61.10" y2="623.50" stroke="#444" stroke-width="1" />
<text x="52.60" y="629.00" font-size="14" text-anchor="end" fill="#111" font-weight="normal" ><tspan font-family="Liberation Serif" font-style="italic">π</tspan>/2</text>
<line x1="58.60" y1="570.30" x2="61.10" y2="570.30" stroke="#444" stroke-width="1" />
<text x="52.60" y="575.80" font-size="14" text-anchor="end" fill="#111" font-weight="normal" >3<tspan font-family="Liberation Serif" font-style="italic">π</tspan>/4</text>
<line x1="58.60" y1="730.30" x2="299.00" y2="730.30" stroke="#555" stroke-width="1.2" />
<line x1="63.58" y1="730.30" x2="63.58" y2="727.80" stroke="#555" stroke-width="1" />
<line x1="157.10" y1="730.30" x2="157.10" y2="727.80" stroke="#555" stroke-width="1" />
<line x1="211.26" y1="730.30" x2="211.26" y2="727.80" stroke="#555" stroke-width="1" />
<line x1="265.76" y1="730.30" x2="265.76" y2="727.80" stroke="#555" stroke-width="1" />
<line x1="293.35" y1="730.30" x2="293.35" y2="727.80" stroke="#555" stroke-width="1" />
<line x1="86.36" y1="730.30" x2="86.36" y2="727.80" stroke="#555" stroke-width="1" />
<line x1="104.97" y1="730.30" x2="104.97" y2="727.80" stroke="#555" stroke-width="1" />
<line x1="120.70" y1="730.30" x2="120.70" y2="727.80" stroke="#555" stroke-width="1" />
<line x1="134.33" y1="730.30" x2="134.33" y2="727.80" stroke="#555" stroke-width="1" />
<line x1="146.35" y1="730.30" x2="146.35" y2="727.80" stroke="#555" stroke-width="1" />
<line x1="227.84" y1="730.30" x2="227.84" y2="727.80" stroke="#555" stroke-width="1" />
<line x1="269.22" y1="730.30" x2="269.22" y2="727.80" stroke="#555" stroke-width="1" />
<line x1="298.58" y1="730.30" x2="298.58" y2="727.80" stroke="#555" stroke-width="1" />
<text x="63.58" y="746.70" font-size="14" text-anchor="middle" fill="#111" font-weight="normal" >0.4</text>
<text x="157.10" y="746.70" font-size="14" text-anchor="middle" fill="#111" font-weight="normal" >1</text>
<text x="211.26" y="746.70" font-size="14" text-anchor="middle" fill="#111" font-weight="normal" >1.7</text>
<text x="265.76" y="746.70" font-size="14" text-anchor="middle" fill="#111" font-weight="normal" >2.9</text>
<text x="293.35" y="746.70" font-size="14" text-anchor="middle" fill="#111" font-weight="normal" >3.8</text>
<text x="178.70" y="768.60" font-size="14.3" text-anchor="middle" fill="#111" font-weight="normal" >Beat frequency (Hz)</text>
<text x="0.00" y="0.00" font-size="14" text-anchor="start" fill="#111" font-weight="normal" transform="translate(12.9,700.3) rotate(-90)"><tspan font-family="Liberation Serif" font-style="italic">ϕ</tspan></text>
<text x="0.00" y="0.00" font-size="14" text-anchor="start" fill="#111" font-weight="normal" transform="translate(12.9,685.8) rotate(-90)">tapping-beat</text>
<text x="0.00" y="0.00" font-size="14" text-anchor="start" fill="#111" font-weight="normal" transform="translate(12.9,600.6) rotate(-90)">(rad)</text>
<line x1="0.00" y1="702.30" x2="14.00" y2="702.30" stroke="#666" stroke-width="1" />
<line x1="0.00" y1="605.90" x2="14.00" y2="605.90" stroke="#aaa" stroke-width="1" />
<line x1="137.40" y1="692.50" x2="155.00" y2="692.50" stroke="#bbb" stroke-width="1" />
<line x1="137.40" y1="715.50" x2="155.00" y2="715.50" stroke="#707070" stroke-width="1" />
<text x="162.30" y="697.30" font-size="12" text-anchor="start" fill="#aaa" font-weight="normal" >Correct</text>
<text x="162.30" y="719.90" font-size="12" text-anchor="start" fill="#555" font-weight="normal" >Incorrect</text>
<line x1="68.00" y1="674.00" x2="68.00" y2="681.50" stroke="#c8c8c8" stroke-width="2.6" stroke-linecap="round"/>
<circle cx="68.00" cy="677.70" r="3.6" fill="#c8c8c8" />
<line x1="68.00" y1="678.30" x2="68.00" y2="687.70" stroke="#626262" stroke-width="2.6" stroke-linecap="round"/>
<circle cx="68.00" cy="682.70" r="3.6" fill="#626262" />
<line x1="123.20" y1="654.50" x2="123.20" y2="663.00" stroke="#c8c8c8" stroke-width="2.6" stroke-linecap="round"/>
<circle cx="123.20" cy="658.50" r="3.6" fill="#c8c8c8" />
<line x1="123.20" y1="654.20" x2="123.20" y2="664.50" stroke="#626262" stroke-width="2.6" stroke-linecap="round"/>
<circle cx="123.20" cy="659.30" r="3.6" fill="#626262" />
<line x1="152.50" y1="617.20" x2="152.50" y2="623.00" stroke="#c8c8c8" stroke-width="2.6" stroke-linecap="round"/>
<circle cx="152.50" cy="619.90" r="3.6" fill="#c8c8c8" />
<line x1="152.50" y1="630.90" x2="152.50" y2="644.70" stroke="#626262" stroke-width="2.6" stroke-linecap="round"/>
<circle cx="152.50" cy="638.10" r="3.6" fill="#626262" />
<line x1="180.70" y1="593.50" x2="180.70" y2="602.00" stroke="#c8c8c8" stroke-width="2.6" stroke-linecap="round"/>
<circle cx="180.70" cy="597.50" r="3.6" fill="#c8c8c8" />
<line x1="180.70" y1="592.10" x2="180.70" y2="604.60" stroke="#626262" stroke-width="2.6" stroke-linecap="round"/>
<circle cx="180.70" cy="598.00" r="3.6" fill="#626262" />
<line x1="208.50" y1="592.60" x2="208.50" y2="605.00" stroke="#c8c8c8" stroke-width="2.6" stroke-linecap="round"/>
<circle cx="208.50" cy="598.70" r="3.6" fill="#c8c8c8" />
<line x1="208.50" y1="603.50" x2="208.50" y2="620.60" stroke="#626262" stroke-width="2.6" stroke-linecap="round"/>
<circle cx="208.50" cy="611.80" r="3.6" fill="#626262" />
<line x1="237.40" y1="599.10" x2="237.40" y2="612.50" stroke="#c8c8c8" stroke-width="2.6" stroke-linecap="round"/>
<circle cx="237.40" cy="606.30" r="3.6" fill="#c8c8c8" />
<line x1="237.40" y1="610.00" x2="237.40" y2="624.30" stroke="#626262" stroke-width="2.6" stroke-linecap="round"/>
<circle cx="237.40" cy="617.10" r="3.6" fill="#626262" />
<line x1="265.40" y1="615.00" x2="265.40" y2="624.30" stroke="#c8c8c8" stroke-width="2.6" stroke-linecap="round"/>
<circle cx="265.40" cy="619.90" r="3.6" fill="#c8c8c8" />
<line x1="265.40" y1="608.30" x2="265.40" y2="618.50" stroke="#626262" stroke-width="2.6" stroke-linecap="round"/>
<circle cx="265.40" cy="613.40" r="3.6" fill="#626262" />
<line x1="293.40" y1="626.00" x2="293.40" y2="634.60" stroke="#c8c8c8" stroke-width="2.6" stroke-linecap="round"/>
<circle cx="293.40" cy="630.20" r="3.6" fill="#c8c8c8" />
<line x1="293.40" y1="621.00" x2="293.40" y2="631.00" stroke="#626262" stroke-width="2.6" stroke-linecap="round"/>
<circle cx="293.40" cy="626.10" r="3.6" fill="#626262" />
<path d="M154.00,567.70L154.00,574.50M151.06,569.40L156.94,572.80M156.94,569.40L151.06,572.80" stroke="#111" stroke-width="1.15" fill="none"/>
<path d="M207.40,566.90L207.40,573.70M204.46,568.60L210.34,572.00M210.34,568.60L204.46,572.00" stroke="#111" stroke-width="1.15" fill="none"/>
<text x="327.80" y="537.00" font-size="20.5" text-anchor="start" fill="#000" font-weight="bold" >e</text>
<line x1="379.70" y1="546.10" x2="379.70" y2="729.30" stroke="#333" stroke-width="1.2" />
<line x1="379.80" y1="728.90" x2="382.30" y2="728.90" stroke="#444" stroke-width="1" />
<text x="373.00" y="734.40" font-size="14" text-anchor="end" fill="#111" font-weight="normal" >0.5</text>
<line x1="379.80" y1="685.40" x2="382.30" y2="685.40" stroke="#444" stroke-width="1" />
<text x="373.00" y="690.90" font-size="14" text-anchor="end" fill="#111" font-weight="normal" >0.6</text>
<line x1="379.80" y1="641.90" x2="382.30" y2="641.90" stroke="#444" stroke-width="1" />
<text x="373.00" y="647.40" font-size="14" text-anchor="end" fill="#111" font-weight="normal" >0.7</text>
<line x1="379.80" y1="598.40" x2="382.30" y2="598.40" stroke="#444" stroke-width="1" />
<text x="373.00" y="603.90" font-size="14" text-anchor="end" fill="#111" font-weight="normal" >0.8</text>
<line x1="379.80" y1="554.90" x2="382.30" y2="554.90" stroke="#444" stroke-width="1" />
<text x="373.00" y="560.40" font-size="14" text-anchor="end" fill="#111" font-weight="normal" >0.9</text>
<line x1="379.70" y1="729.30" x2="619.90" y2="729.30" stroke="#333" stroke-width="1.3" />
<line x1="384.59" y1="729.30" x2="384.59" y2="726.80" stroke="#333" stroke-width="1" />
<line x1="478.30" y1="729.30" x2="478.30" y2="726.80" stroke="#333" stroke-width="1" />
<line x1="532.57" y1="729.30" x2="532.57" y2="726.80" stroke="#333" stroke-width="1" />
<line x1="587.19" y1="729.30" x2="587.19" y2="726.80" stroke="#333" stroke-width="1" />
<line x1="614.84" y1="729.30" x2="614.84" y2="726.80" stroke="#333" stroke-width="1" />
<line x1="407.41" y1="729.30" x2="407.41" y2="726.80" stroke="#333" stroke-width="1" />
<line x1="426.05" y1="729.30" x2="426.05" y2="726.80" stroke="#333" stroke-width="1" />
<line x1="441.82" y1="729.30" x2="441.82" y2="726.80" stroke="#333" stroke-width="1" />
<line x1="455.48" y1="729.30" x2="455.48" y2="726.80" stroke="#333" stroke-width="1" />
<line x1="467.52" y1="729.30" x2="467.52" y2="726.80" stroke="#333" stroke-width="1" />
<line x1="549.19" y1="729.30" x2="549.19" y2="726.80" stroke="#333" stroke-width="1" />
<line x1="590.66" y1="729.30" x2="590.66" y2="726.80" stroke="#333" stroke-width="1" />
<line x1="620.09" y1="729.30" x2="620.09" y2="726.80" stroke="#333" stroke-width="1" />
<text x="384.59" y="745.90" font-size="14" text-anchor="middle" fill="#111" font-weight="normal" >0.4</text>
<text x="478.30" y="745.90" font-size="14" text-anchor="middle" fill="#111" font-weight="normal" >1</text>
<text x="532.57" y="745.90" font-size="14" text-anchor="middle" fill="#111" font-weight="normal" >1.7</text>
<text x="587.19" y="745.90" font-size="14" text-anchor="middle" fill="#111" font-weight="normal" >2.9</text>
<text x="614.84" y="745.90" font-size="14" text-anchor="middle" fill="#111" font-weight="normal" >3.8</text>
<text x="510.20" y="768.60" font-size="14.3" text-anchor="middle" fill="#111" font-weight="normal" >Beat frequency (Hz)</text>
<text x="0.00" y="0.00" font-size="14.3" text-anchor="middle" fill="#111" font-weight="normal" transform="translate(340.3,637.4) rotate(-90)">Proportion correct</text>
<line x1="385.90" y1="692.50" x2="404.70" y2="692.50" stroke="#c4c4c4" stroke-width="1" />
<line x1="385.90" y1="712.50" x2="404.70" y2="712.50" stroke="#707070" stroke-width="1" />
<text x="411.30" y="696.20" font-size="12" text-anchor="start" fill="#aaa" font-weight="normal" >Low</text>
<text x="411.30" y="716.80" font-size="12" text-anchor="start" fill="#555" font-weight="normal" >High</text>
<line x1="437.40" y1="684.40" x2="437.40" y2="697.30" stroke="#bbb" stroke-width="1" />
<text x="441.60" y="695.60" font-size="11.5" text-anchor="start" fill="#aaa" font-weight="normal" >Δ<tspan font-family="Liberation Serif">ϕ</tspan></text>
<line x1="459.50" y1="684.40" x2="459.50" y2="697.30" stroke="#bbb" stroke-width="1" />
<line x1="440.70" y1="704.10" x2="440.70" y2="717.10" stroke="#555" stroke-width="1" />
<text x="444.80" y="716.10" font-size="11.5" text-anchor="start" fill="#555" font-weight="normal" >Δ<tspan font-family="Liberation Serif">ϕ</tspan></text>
<line x1="462.80" y1="704.10" x2="462.80" y2="717.10" stroke="#555" stroke-width="1" />
<line x1="389.60" y1="559.90" x2="389.60" y2="576.70" stroke="#626262" stroke-width="2.6" stroke-linecap="round"/>
<circle cx="389.60" cy="568.00" r="3.6" fill="#626262" />
<line x1="389.60" y1="584.60" x2="389.60" y2="615.70" stroke="#c8c8c8" stroke-width="2.6" stroke-linecap="round"/>
<circle cx="389.60" cy="599.30" r="3.6" fill="#c8c8c8" />
<line x1="444.80" y1="570.40" x2="444.80" y2="588.00" stroke="#626262" stroke-width="2.6" stroke-linecap="round"/>
<circle cx="444.80" cy="582.00" r="3.6" fill="#626262" />
<line x1="444.80" y1="582.00" x2="444.80" y2="601.50" stroke="#c8c8c8" stroke-width="2.6" stroke-linecap="round"/>
<circle cx="444.80" cy="590.50" r="3.6" fill="#c8c8c8" />
<line x1="473.90" y1="550.20" x2="473.90" y2="568.20" stroke="#626262" stroke-width="2.6" stroke-linecap="round"/>
<circle cx="473.90" cy="559.40" r="3.6" fill="#626262" />
<line x1="473.90" y1="575.80" x2="473.90" y2="593.40" stroke="#c8c8c8" stroke-width="2.6" stroke-linecap="round"/>
<circle cx="473.90" cy="584.20" r="3.6" fill="#c8c8c8" />
<line x1="501.70" y1="588.00" x2="501.70" y2="604.00" stroke="#626262" stroke-width="2.6" stroke-linecap="round"/>
<circle cx="501.70" cy="596.00" r="3.6" fill="#626262" />
<line x1="501.70" y1="585.70" x2="501.70" y2="606.50" stroke="#c8c8c8" stroke-width="2.6" stroke-linecap="round"/>
<circle cx="501.70" cy="596.20" r="3.6" fill="#c8c8c8" />
<line x1="529.70" y1="607.80" x2="529.70" y2="634.50" stroke="#626262" stroke-width="2.6" stroke-linecap="round"/>
<circle cx="529.70" cy="621.60" r="3.6" fill="#626262" />
<line x1="529.70" y1="662.80" x2="529.70" y2="696.30" stroke="#c8c8c8" stroke-width="2.6" stroke-linecap="round"/>
<circle cx="529.70" cy="679.10" r="3.6" fill="#c8c8c8" />
<line x1="558.70" y1="648.60" x2="558.70" y2="673.10" stroke="#626262" stroke-width="2.6" stroke-linecap="round"/>
<circle cx="558.70" cy="660.60" r="3.6" fill="#626262" />
<line x1="558.70" y1="702.50" x2="558.70" y2="723.70" stroke="#c8c8c8" stroke-width="2.6" stroke-linecap="round"/>
<circle cx="558.70" cy="713.20" r="3.6" fill="#c8c8c8" />
<line x1="586.80" y1="704.50" x2="586.80" y2="728.80" stroke="#626262" stroke-width="2.6" stroke-linecap="round"/>
<circle cx="586.80" cy="718.60" r="3.6" fill="#626262" />
<line x1="586.80" y1="675.70" x2="586.80" y2="702.50" stroke="#c8c8c8" stroke-width="2.6" stroke-linecap="round"/>
<circle cx="586.80" cy="689.00" r="3.6" fill="#c8c8c8" />
<line x1="615.00" y1="711.30" x2="615.00" y2="728.80" stroke="#626262" stroke-width="2.6" stroke-linecap="round"/>
<circle cx="615.00" cy="720.50" r="3.6" fill="#626262" />
<line x1="615.00" y1="684.20" x2="615.00" y2="710.00" stroke="#c8c8c8" stroke-width="2.6" stroke-linecap="round"/>
<circle cx="615.00" cy="697.80" r="3.6" fill="#c8c8c8" />
<line x1="586.80" y1="704.50" x2="586.80" y2="728.80" stroke="#626262" stroke-width="2.6" stroke-linecap="round"/>
<circle cx="586.80" cy="718.60" r="3.6" fill="#626262" />
<line x1="615.00" y1="711.30" x2="615.00" y2="728.80" stroke="#626262" stroke-width="2.6" stroke-linecap="round"/>
<circle cx="615.00" cy="720.50" r="3.6" fill="#626262" />
<path d="M474.60,531.50L474.60,538.30M471.66,533.20L477.54,536.60M477.54,533.20L471.66,536.60" stroke="#111" stroke-width="1.15" fill="none"/>
<path d="M530.90,580.50L530.90,587.30M527.96,582.20L533.84,585.60M533.84,582.20L527.96,585.60" stroke="#111" stroke-width="1.15" fill="none"/>
<path d="M560.00,616.20L560.00,623.00M557.06,617.90L562.94,621.30M562.94,617.90L557.06,621.30" stroke="#111" stroke-width="1.15" fill="none"/>
<line x1="600.50" y1="539.10" x2="600.50" y2="611.20" stroke="#444" stroke-width="1" />
<line x1="600.50" y1="611.20" x2="685.00" y2="611.20" stroke="#444" stroke-width="1" />
<line x1="600.50" y1="611.20" x2="602.50" y2="611.20" stroke="#444" stroke-width="1" />
<text x="595.80" y="614.80" font-size="10" text-anchor="end" fill="#111" font-weight="normal" >0</text>
<line x1="600.50" y1="590.30" x2="602.50" y2="590.30" stroke="#444" stroke-width="1" />
<text x="595.80" y="593.90" font-size="10" text-anchor="end" fill="#111" font-weight="normal" ><tspan font-family="Liberation Serif" font-style="italic">π</tspan>/4</text>
<line x1="600.50" y1="569.40" x2="602.50" y2="569.40" stroke="#444" stroke-width="1" />
<text x="595.80" y="573.00" font-size="10" text-anchor="end" fill="#111" font-weight="normal" ><tspan font-family="Liberation Serif" font-style="italic">π</tspan>/2</text>
<line x1="600.50" y1="548.50" x2="602.50" y2="548.50" stroke="#444" stroke-width="1" />
<text x="595.80" y="552.10" font-size="10" text-anchor="end" fill="#111" font-weight="normal" >3<tspan font-family="Liberation Serif" font-style="italic">π</tspan>/4</text>
<text x="0.00" y="0.00" font-size="10" text-anchor="middle" fill="#111" font-weight="normal" transform="translate(568.0,575.0) rotate(-90)">|Δ<tspan font-family="Liberation Serif" font-style="italic">ϕ</tspan>| (rad)</text>
<line x1="604.00" y1="596.00" x2="604.00" y2="600.00" stroke="#c8c8c8" stroke-width="1.3" stroke-linecap="round"/>
<circle cx="604.00" cy="598.00" r="1.9" fill="#c8c8c8" />
<line x1="623.40" y1="589.60" x2="623.40" y2="593.60" stroke="#c8c8c8" stroke-width="1.3" stroke-linecap="round"/>
<circle cx="623.40" cy="591.60" r="1.9" fill="#c8c8c8" />
<line x1="633.80" y1="575.40" x2="633.80" y2="581.40" stroke="#c8c8c8" stroke-width="1.3" stroke-linecap="round"/>
<circle cx="633.80" cy="578.40" r="1.9" fill="#c8c8c8" />
<line x1="643.10" y1="566.90" x2="643.10" y2="573.90" stroke="#c8c8c8" stroke-width="1.3" stroke-linecap="round"/>
<circle cx="643.10" cy="570.40" r="1.9" fill="#c8c8c8" />
<line x1="653.00" y1="572.00" x2="653.00" y2="579.00" stroke="#c8c8c8" stroke-width="1.3" stroke-linecap="round"/>
<circle cx="653.00" cy="575.50" r="1.9" fill="#c8c8c8" />
<line x1="663.20" y1="578.20" x2="663.20" y2="586.20" stroke="#c8c8c8" stroke-width="1.3" stroke-linecap="round"/>
<circle cx="663.20" cy="582.20" r="1.9" fill="#c8c8c8" />
<line x1="673.30" y1="583.10" x2="673.30" y2="588.10" stroke="#c8c8c8" stroke-width="1.3" stroke-linecap="round"/>
<circle cx="673.30" cy="585.60" r="1.9" fill="#c8c8c8" />
<line x1="683.10" y1="589.50" x2="683.10" y2="594.50" stroke="#c8c8c8" stroke-width="1.3" stroke-linecap="round"/>
<circle cx="683.10" cy="592.00" r="1.9" fill="#c8c8c8" />
<line x1="604.00" y1="583.30" x2="604.00" y2="587.30" stroke="#626262" stroke-width="1.3" stroke-linecap="round"/>
<circle cx="604.00" cy="585.30" r="1.9" fill="#626262" />
<line x1="623.40" y1="572.60" x2="623.40" y2="576.60" stroke="#626262" stroke-width="1.3" stroke-linecap="round"/>
<circle cx="623.40" cy="574.60" r="1.9" fill="#626262" />
<line x1="633.80" y1="556.50" x2="633.80" y2="561.50" stroke="#626262" stroke-width="1.3" stroke-linecap="round"/>
<circle cx="633.80" cy="559.00" r="1.9" fill="#626262" />
<line x1="643.10" y1="547.60" x2="643.10" y2="552.60" stroke="#626262" stroke-width="1.3" stroke-linecap="round"/>
<circle cx="643.10" cy="550.10" r="1.9" fill="#626262" />
<line x1="653.00" y1="544.00" x2="653.00" y2="551.00" stroke="#626262" stroke-width="1.3" stroke-linecap="round"/>
<circle cx="653.00" cy="547.50" r="1.9" fill="#626262" />
<line x1="663.20" y1="543.10" x2="663.20" y2="550.10" stroke="#626262" stroke-width="1.3" stroke-linecap="round"/>
<circle cx="663.20" cy="546.60" r="1.9" fill="#626262" />
<line x1="673.30" y1="545.40" x2="673.30" y2="550.40" stroke="#626262" stroke-width="1.3" stroke-linecap="round"/>
<circle cx="673.30" cy="547.90" r="1.9" fill="#626262" />
<line x1="683.10" y1="548.50" x2="683.10" y2="553.50" stroke="#626262" stroke-width="1.3" stroke-linecap="round"/>
<circle cx="683.10" cy="551.00" r="1.9" fill="#626262" />
</svg>
</body></html>
